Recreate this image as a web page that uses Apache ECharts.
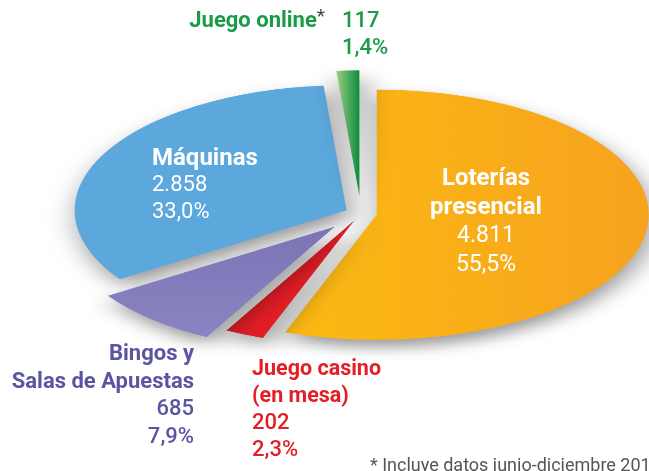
<!DOCTYPE html>
<html>
<head>
<meta charset="utf-8">
<script src="https://cdn.jsdelivr.net/npm/echarts@6/dist/echarts.min.js"></script>
<style>
  html, body { margin: 0; padding: 0; background: #ffffff; }
  .wrap { position: relative; width: 649px; height: 471px; overflow: hidden; }
  /* the pie is drawn round and squashed to look like a tilted disc */
  #pie { position: absolute; left: 0; top: 0; width: 649px; height: 1024px;
         transform: scaleY(0.46); transform-origin: 0 0; }
  #labels { position: absolute; left: 0; top: 0; width: 649px; height: 471px; }
</style>
</head>
<body>
<div class="wrap">
  <div id="pie"></div>
  <div id="labels"></div>
</div>
<script>
  // datos
  const names = ['Loterías\npresencial', 'Juego casino\n(en mesa)', 'Bingos y\nSalas de Apuestas', 'Máquinas', 'Juego online']
  const values = [4811, 202, 685, 2858, 117]
  const percents = [55.5, 2.3, 7.9, 33.0, 1.4]
  const footnote = '* Incluye datos junio-diciembre 2012'

  const colors = [
    { type: 'linear', x: 0, y: 0, x2: 1, y2: 0, colorStops: [{ offset: 0, color: '#fdba12' }, { offset: 1, color: '#f6a31f' }] },
    '#e21d26',
    { type: 'linear', x: 0, y: 0, x2: 0, y2: 1, colorStops: [{ offset: 0, color: '#7b75b6' }, { offset: 1, color: '#8a84c2' }] },
    '#5ca8dc',
    { type: 'linear', x: 0, y: 0, x2: 1, y2: 0, colorStops: [{ offset: 0, color: '#9ad083' }, { offset: 1, color: '#0c8c3c' }] }
  ]
  const textColors = ['#ffffff', '#e31e24', '#5a55a0', '#ffffff', '#1b9a48']
  const explode = [16, 16, 39, 16, 39]

  function fmtNum (v) {
    return String(v).replace(/\B(?=(\d{3})+(?!\d))/g, '.')
  }
  function fmtPct (p) {
    return p.toFixed(1).replace('.', ',') + '%'
  }

  // one pie series per explode distance, the other slices left transparent
  function pieSeries (offset) {
    return {
      type: 'pie',
      radius: 272,
      center: [361, 464],
      startAngle: 90,
      selectedMode: 'multiple',
      selectedOffset: offset,
      silent: true,
      label: { show: false },
      labelLine: { show: false },
      emphasis: { disabled: true },
      data: values.map(function (v, i) {
        const on = explode[i] === offset
        return {
          name: names[i].replace('\n', ' '),
          value: v,
          selected: true,
          itemStyle: on ? {
            color: colors[i],
            shadowBlur: 30,
            shadowOffsetX: 4,
            shadowOffsetY: 16,
            shadowColor: 'rgba(0,0,0,0.4)'
          } : { color: 'rgba(0,0,0,0)' }
        }
      })
    }
  }

  const pieChart = echarts.init(document.getElementById('pie'))
  pieChart.setOption({
    animation: false,
    series: [pieSeries(16), pieSeries(39)]
  })

  // label layout: anchor, alignment, sizes
  const labelLayout = [
    { x: 486, y: 164, align: 'center', nameSize: 24, numSize: 23, numWeight: 400, lh: 29 },
    { x: 252, y: 356, align: 'left', nameSize: 21.5, numSize: 22, numWeight: 500, lh: 27 },
    { x: 194, y: 341, align: 'right', nameSize: 22, numSize: 22, numWeight: 500, lh: 27.5 },
    { x: 152, y: 145, align: 'left', nameSize: 24, numSize: 22, numWeight: 400, lh: 27 },
    null
  ]
  const font = 'Roboto, "Noto Sans", sans-serif'

  const graphics = []
  values.forEach(function (v, i) {
    const l = labelLayout[i]
    if (!l) return
    const lines = names[i].split('\n').map(function (s) { return '{n|' + s + '}' })
    lines.push('{v|' + fmtNum(v) + '}', '{v|' + fmtPct(percents[i]) + '}')
    graphics.push({
      type: 'text',
      x: l.x,
      y: l.y,
      style: {
        text: lines.join('\n'),
        textAlign: l.align,
        textVerticalAlign: 'top',
        fill: textColors[i],
        rich: {
          n: { fontFamily: font, fontWeight: 700, fontSize: l.nameSize, lineHeight: l.lh, fill: textColors[i] },
          v: { fontFamily: font, fontWeight: l.numWeight, fontSize: l.numSize, lineHeight: l.lh, fill: textColors[i] }
        }
      }
    })
  })

  // Juego online: name on the left, numbers in a column
  graphics.push({
    type: 'text', x: 325, y: 8,
    style: {
      text: '{n|' + names[4] + '}{a|*}',
      textAlign: 'right', textVerticalAlign: 'top',
      rich: {
        n: { fontFamily: font, fontWeight: 700, fontSize: 22, lineHeight: 27, fill: textColors[4] },
        a: { fontFamily: font, fontWeight: 400, fontSize: 19, lineHeight: 27, fill: '#444444', verticalAlign: 'top' }
      }
    }
  })
  graphics.push({
    type: 'text', x: 342, y: 8,
    style: {
      text: fmtNum(values[4]) + '\n' + fmtPct(percents[4]),
      textAlign: 'left', textVerticalAlign: 'top',
      fontFamily: font, fontWeight: 500, fontSize: 22, lineHeight: 27, fill: textColors[4]
    }
  })
  graphics.push({
    type: 'text', x: 370, y: 457,
    style: { text: footnote, fontFamily: font, fontSize: 18, fill: '#555555', textVerticalAlign: 'top' }
  })

  const labelChart = echarts.init(document.getElementById('labels'))
  labelChart.setOption({
    animation: false,
    graphic: graphics
  })
</script>
</body>
</html>
